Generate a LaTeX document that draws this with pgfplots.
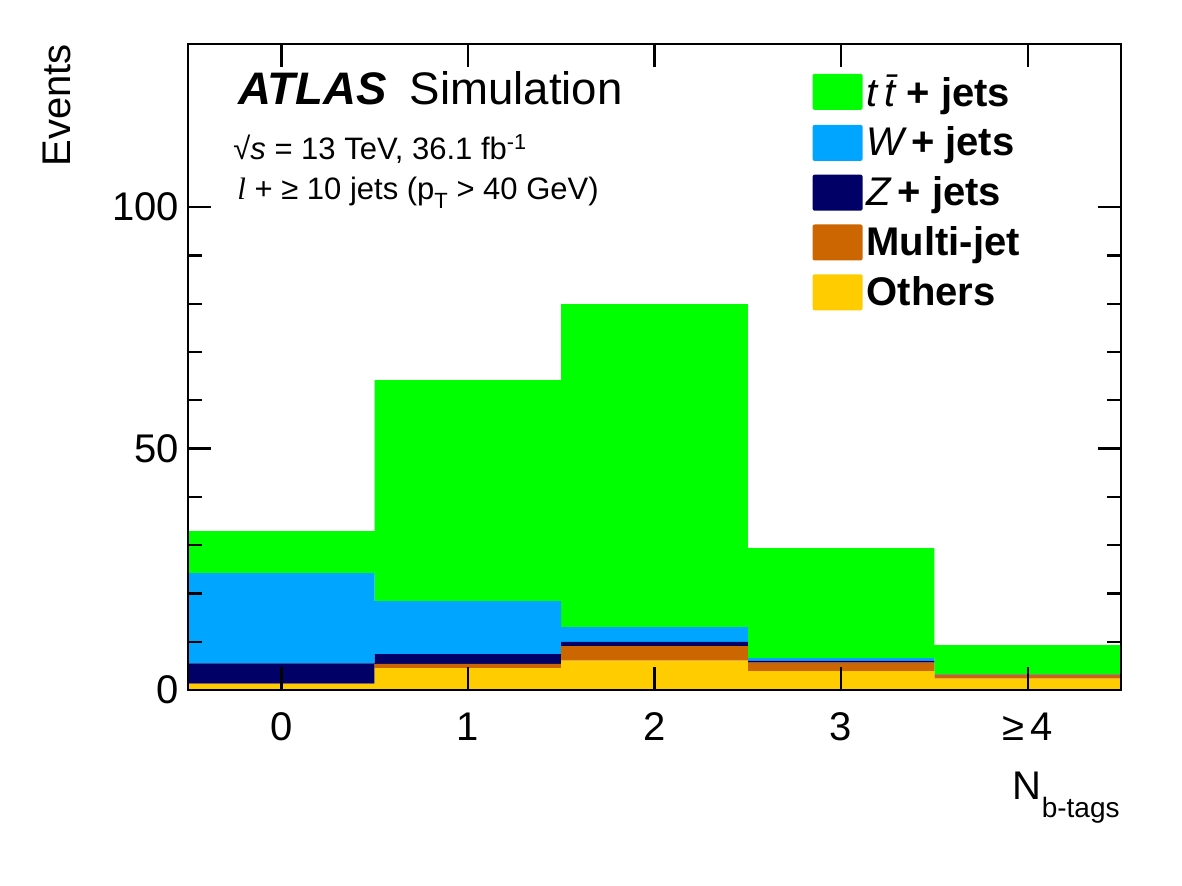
\documentclass[border=0pt]{standalone}
\usepackage{fontspec}
\setmainfont{Liberation Sans}
\newfontfamily\serifit{Liberation Serif}
\usepackage{pgfplots}
\pgfplotsset{compat=1.18}
\definecolor{ttg}{RGB}{0,255,0}
\definecolor{wj}{RGB}{0,165,255}
\definecolor{zj}{RGB}{0,0,102}
\definecolor{mj}{RGB}{204,102,0}
\definecolor{oth}{RGB}{255,204,0}
\begin{document}
\begin{tikzpicture}
\useasboundingbox (0,0) rectangle (591pt,443pt);
\begin{axis}[
  at={(94pt,98pt)}, anchor=south west,
  scale only axis, width=466.5pt, height=323pt,
  xmin=-0.5, xmax=4.5, ymin=0, ymax=133.8,
  ybar stacked, bar width=1,
  axis on top,
  axis line style={line width=1pt},
  xtick={0,1,2,3,4}, xticklabels={0,1,2,3,{≥\,4}},
  ytick={0,50,100}, minor y tick num=4,
  major tick length=11.5pt, minor tick length=7pt,
  tick style={line width=1.2pt, black},
  /pgf/number format/assume math mode=true,
  tick label style={font=\fontsize{20}{24}\selectfont},
  xticklabel style={yshift=-8pt},
  yticklabel style={xshift=-1pt},
  legend style={draw=none, fill=none, at={([yshift=4pt]rel axis cs:0.669,0.947)}, anchor=north west,
    inner sep=0pt, row sep=4.9pt, font=\fontsize{20}{21}\selectfont\bfseries,
    /tikz/every even column/.append style={column sep=6pt}},
  legend cell align=left,
  reverse legend,
  legend image code/.code={\fill[#1, rounded corners=1pt] (0pt,-9pt) rectangle (25pt,9pt);},
]
% Others
\addplot[fill=oth, draw=none] coordinates {(0,1.2) (1,4.55) (2,6.07) (3,3.93) (4,2.35)};
\addlegendentry{Others}
% Multi-jet
\addplot[fill=mj, draw=none] coordinates {(0,0.1) (1,0.85) (2,3.03) (3,1.72) (4,0.82)};
\addlegendentry{Multi-jet}
% Z+jets
\addplot[fill=zj, draw=none] coordinates {(0,4.2) (1,2.05) (2,0.84) (3,0.42) (4,0.03)};
\addlegendentry{{\mdseries\itshape Z}\,+ jets}
% W+jets
\addplot[fill=wj, draw=none] coordinates {(0,18.7) (1,10.95) (2,3.06) (3,0.53) (4,0.1)};
\addlegendentry{{\mdseries\itshape W}\,+ jets}
% ttbar
\addplot[fill=ttg, draw=none] coordinates {(0,8.7) (1,45.8) (2,66.9) (3,22.8) (4,6.0)};
\addlegendentry{{\mdseries\itshape t\,\={t}} + jets}

\node[anchor=base west, inner sep=0pt, font=\fontsize{22.8}{26}\selectfont]
  at ([xshift=25pt, yshift=-30.5pt]rel axis cs:0,1) {\textbf{\textit{ATLAS}}\hspace{0.5em}Simulation};
\node[anchor=base west, inner sep=0pt, font=\fontsize{15.5}{17}\selectfont]
  at ([xshift=22.5pt, yshift=-58pt]rel axis cs:0,1) {√\textit{s} = 13 TeV, 36.1 fb\textsuperscript{-1}};
\node[anchor=base west, inner sep=0pt, font=\fontsize{15.5}{17}\selectfont]
  at ([xshift=24.5pt, yshift=-78pt]rel axis cs:0,1) {{\serifit\itshape l} + ≥ 10 jets (p\raisebox{-0.55ex}{\fontsize{11}{11}\selectfont T} > 40 GeV)};
\end{axis}
\node[rotate=90, anchor=base east, inner sep=0pt, font=\fontsize{20}{24}\selectfont] at (35pt,421pt) {Events};
\node[anchor=base east, inner sep=0pt, font=\fontsize{20}{24}\selectfont] at (560pt,43pt)
  {N\raisebox{-0.45em}{\fontsize{14}{16}\selectfont b-tags}};
\end{tikzpicture}
\end{document}
